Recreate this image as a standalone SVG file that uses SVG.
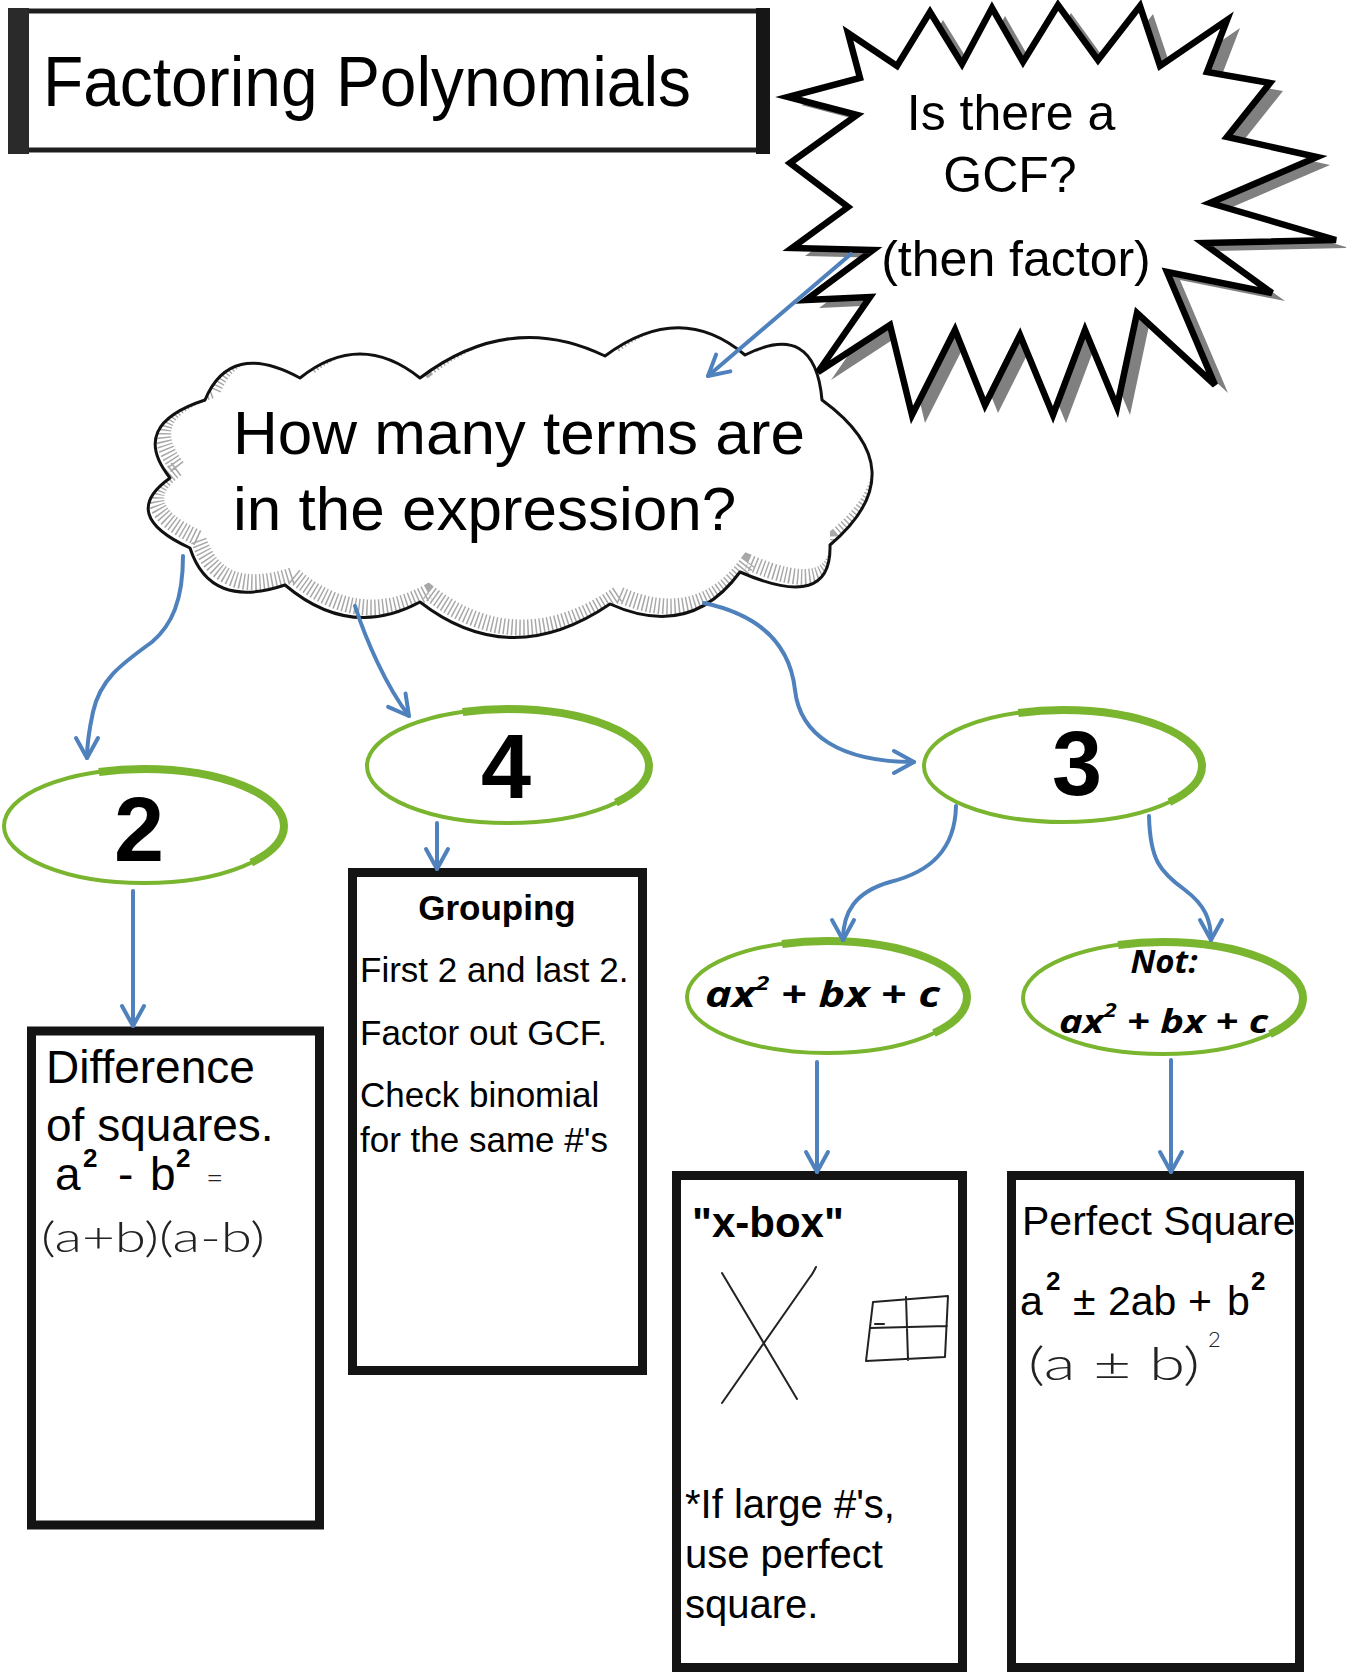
<svg xmlns="http://www.w3.org/2000/svg" width="1346" height="1674" viewBox="0 0 1346 1674">
<style>
.sans{font-family:"Liberation Sans",Arial,sans-serif;fill:#000}
.bold{font-weight:bold}
.hand{font-family:"Lato","DejaVu Sans",sans-serif;font-weight:300;fill:#222}
.box{fill:#fff;stroke:#141414;stroke-width:9}
.oval{fill:#fff;stroke:#79b52e;stroke-width:4}
.ovalb{fill:none;stroke:#79b52e;stroke-width:8;stroke-dasharray:40 60;stroke-dashoffset:-68}
.num{font-family:"Liberation Sans",Arial,sans-serif;font-weight:bold;font-size:90px;text-anchor:middle;fill:#000}
.eq{font-family:"Open Sans","Liberation Sans",sans-serif;font-weight:bold;font-style:italic;fill:#000}
.conn{fill:none;stroke:#4f81bd;stroke-width:4;stroke-linecap:round;marker-end:url(#arr)}
.pen{fill:none;stroke:#222;stroke-width:2;stroke-linecap:round;stroke-linejoin:round}
</style>
<defs>
<marker id="arr" markerUnits="userSpaceOnUse" markerWidth="30" markerHeight="30" viewBox="0 0 30 30" refX="26" refY="15" orient="auto">
<path d="M6,4 L26,15 L6,26" fill="none" stroke="#4f81bd" stroke-width="4" stroke-linecap="round" stroke-linejoin="round"/>
</marker>
<path id="cloudShape" d="M 190 548 Q 118 515 170 478 Q 128 425 205 400 Q 230 340 300 378 Q 360 330 420 378 Q 510 310 605 356 Q 680 300 745 355 Q 815 320 822 400 Q 918 470 830 545 Q 832 612 740 572 Q 690 640 610 604 Q 510 672 420 602 Q 350 640 285 585 Q 210 610 190 548 Z"/>
<clipPath id="cloudClip"><use href="#cloudShape"/></clipPath>
<polygon id="burst" points="848,33 897,66 930,12 962,64 992,8 1023,62 1058,5 1098,60 1140,6 1160,66 1227,20 1207,72 1270,83 1227,137 1317,157 1210,203 1336,240 1203,243 1272,293 1167,272 1215,385 1137,313 1117,407 1085,330 1053,415 1020,335 985,405 955,330 912,415 890,325 818,372 870,297 806,300 873,250 792,248 848,207 790,163 857,115 788,97 860,78"/>
</defs>

<g id="title">
<rect x="12" y="11" width="752" height="139" fill="#fff" stroke="#1e1e1e" stroke-width="5"/>
<rect x="8" y="8" width="21" height="146" fill="#2a2a2a"/>
<rect x="756" y="8" width="14" height="146" fill="#161616"/>
<text class="sans" x="43" y="106" font-size="70" textLength="648" lengthAdjust="spacingAndGlyphs">Factoring Polynomials</text>
</g>

<g id="question">
<use href="#cloudShape" fill="#fff"/>
<g clip-path="url(#cloudClip)">
<use href="#cloudShape" transform="translate(8,-10)" fill="none" stroke="#a8a8a8" stroke-width="16" stroke-dasharray="1.5 2.5"/>
</g>
<use href="#cloudShape" fill="none" stroke="#111" stroke-width="3" stroke-linejoin="round"/>
<text class="sans" x="233" y="454" font-size="62">How many terms are</text>
<text class="sans" x="233" y="530" font-size="62">in the expression?</text>
</g>

<g id="gcf">
<use href="#burst" transform="translate(13,8)" fill="#808080"/>
<use href="#burst" fill="#fff" stroke="#000" stroke-width="6.5" stroke-linejoin="miter"/>
<text class="sans" x="1011" y="130" font-size="50" text-anchor="middle">Is there a</text>
<text class="sans" x="1010" y="192" font-size="50" text-anchor="middle">GCF?</text>
<text class="sans" x="1016" y="276" font-size="50" text-anchor="middle">(then factor)</text>
</g>

<g id="terms-2">
<ellipse class="oval" cx="144" cy="826" rx="140" ry="57"/>
<ellipse class="ovalb" cx="144" cy="826" rx="140" ry="57" pathLength="100"/>
<text class="num" x="139" y="861">2</text>
</g>

<g id="terms-4">
<ellipse class="oval" cx="508" cy="766" rx="141" ry="57"/>
<ellipse class="ovalb" cx="508" cy="766" rx="141" ry="57" pathLength="100"/>
<text class="num" x="506" y="798">4</text>
</g>

<g id="terms-3">
<ellipse class="oval" cx="1063" cy="766" rx="139" ry="56"/>
<ellipse class="ovalb" cx="1063" cy="766" rx="139" ry="56" pathLength="100"/>
<text class="num" x="1077" y="795">3</text>
</g>

<g id="trinomial">
<ellipse class="oval" cx="827" cy="997" rx="140" ry="56"/>
<ellipse class="ovalb" cx="827" cy="997" rx="140" ry="56" pathLength="100"/>
<text class="eq" x="705" y="1007" font-size="36" textLength="235" lengthAdjust="spacingAndGlyphs">ax<tspan font-size="20" dy="-17">2</tspan><tspan dy="17"> + bx + c</tspan></text>
</g>

<g id="not-trinomial">
<ellipse class="oval" cx="1163" cy="998" rx="140" ry="56"/>
<ellipse class="ovalb" cx="1163" cy="998" rx="140" ry="56" pathLength="100"/>
<text class="eq" x="1164" y="973" font-size="33" text-anchor="middle">Not:</text>
<text class="eq" x="1059" y="1033" font-size="33" textLength="209" lengthAdjust="spacingAndGlyphs">ax<tspan font-size="19" dy="-16">2</tspan><tspan dy="16"> + bx + c</tspan></text>
</g>

<g id="box-difference">
<rect class="box" x="31.5" y="1031" width="288" height="494"/>
<text class="sans" x="46" y="1083" font-size="46">Difference</text>
<text class="sans" x="46" y="1141" font-size="46">of squares.</text>
<text class="sans" x="55" y="1190" font-size="46">a</text>
<text class="sans bold" x="83" y="1167" font-size="26">2</text>
<text class="sans" x="118" y="1190" font-size="46">-</text>
<text class="sans" x="150" y="1190" font-size="46">b</text>
<text class="sans bold" x="176" y="1167" font-size="26">2</text>
<text class="hand" x="206" y="1188" font-size="30">=</text>
<text class="hand" x="41" y="1252" font-size="42" textLength="224" lengthAdjust="spacingAndGlyphs">(a+b)(a-b)</text>
</g>

<g id="box-grouping">
<rect class="box" x="352.5" y="872.5" width="290" height="498"/>
<text class="sans bold" x="497" y="920" font-size="35" text-anchor="middle">Grouping</text>
<text class="sans" x="360" y="982" font-size="35">First 2 and last 2.</text>
<text class="sans" x="360" y="1045" font-size="35">Factor out GCF.</text>
<text class="sans" x="360" y="1107" font-size="35">Check binomial</text>
<text class="sans" x="360" y="1152" font-size="35">for the same #'s</text>
</g>

<g id="box-xbox">
<rect class="box" x="676.5" y="1175.5" width="286" height="492"/>
<text class="sans bold" x="692" y="1237" font-size="42">"x-box"</text>
<path class="pen" d="M 722 1273 L 797 1399 M 816 1267 Q 812 1275 810 1277 L 722 1403"/>
<path class="pen" d="M 873 1302 L 948 1296 L 945 1357 L 866 1361 Z M 906 1297 L 908 1360 M 870 1328 L 947 1326 M 875 1324 L 884 1324"/>
<text class="sans" x="685" y="1518" font-size="40">*If large #'s,</text>
<text class="sans" x="685" y="1568" font-size="40">use perfect</text>
<text class="sans" x="685" y="1618" font-size="40">square.</text>
</g>

<g id="box-perfect-square">
<rect class="box" x="1011.5" y="1175.5" width="288" height="492"/>
<text class="sans" x="1022" y="1235" font-size="41">Perfect Square</text>
<text class="sans" x="1020" y="1315" font-size="41">a</text>
<text class="sans bold" x="1046" y="1290" font-size="26">2</text>
<text class="sans" x="1073" y="1315" font-size="41">±</text>
<text class="sans" x="1108" y="1315" font-size="41">2ab</text>
<text class="sans" x="1188" y="1315" font-size="41">+</text>
<text class="sans" x="1227" y="1315" font-size="41">b</text>
<text class="sans bold" x="1251" y="1290" font-size="26">2</text>
<text class="hand" x="1028" y="1380" font-size="46" textLength="172" lengthAdjust="spacingAndGlyphs">(a ± b)</text>
<text class="hand" x="1208" y="1347" font-size="22">2</text>
</g>

<g id="connectors">
<path class="conn" d="M 851 254 L 708 376"/>
<path class="conn" d="M 183 556 C 183 600 172 625 152 642 C 120 665 100 680 93 712 C 88 735 87 745 87 758"/>
<path class="conn" d="M 355 606 C 366 640 386 686 409 716"/>
<path class="conn" d="M 704 603 C 760 615 790 645 795 690 C 800 735 840 762 914 762"/>
<path class="conn" d="M 133 891 L 133 1026"/>
<path class="conn" d="M 437 823 L 437 869"/>
<path class="conn" d="M 956 806 C 955 850 930 872 890 882 C 855 892 843 912 843 940"/>
<path class="conn" d="M 1149 816 C 1150 860 1160 872 1185 890 C 1205 905 1211 920 1211 940"/>
<path class="conn" d="M 817 1062 L 817 1172"/>
<path class="conn" d="M 1171 1060 L 1171 1172"/>
</g>
</svg>
